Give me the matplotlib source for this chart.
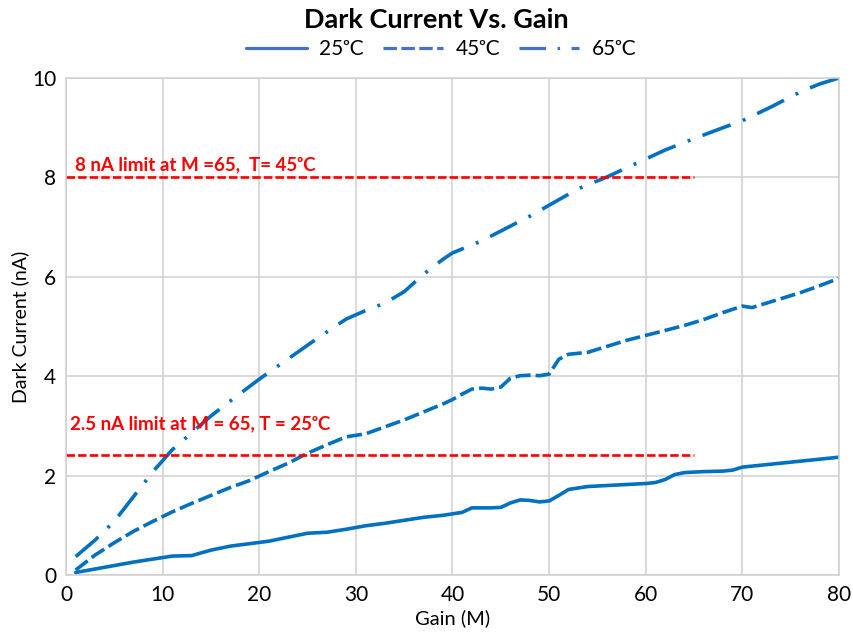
import matplotlib.pyplot as plt

plt.rcParams['font.family'] = ['Lato', 'DejaVu Sans']

# Gain (M) vs dark current (nA)
gain_25 = [1, 3, 5, 7, 9, 11, 13, 15, 17, 19, 21, 23, 25, 27, 29, 31, 33, 35, 37, 39,
           40, 41, 42, 44, 45, 46, 47, 48, 49, 50, 51, 52, 54, 56, 58, 60, 61, 62, 63,
           64, 66, 68, 69, 70, 72, 74, 76, 78, 80]
dark_25 = [0.05, 0.12, 0.19, 0.26, 0.32, 0.38, 0.39, 0.50, 0.58, 0.63, 0.68, 0.76, 0.84,
           0.86, 0.92, 0.99, 1.04, 1.10, 1.16, 1.20, 1.23, 1.26, 1.35, 1.35, 1.36, 1.45,
           1.51, 1.50, 1.47, 1.49, 1.60, 1.72, 1.78, 1.80, 1.82, 1.84, 1.86, 1.92, 2.02,
           2.06, 2.08, 2.09, 2.11, 2.17, 2.21, 2.25, 2.29, 2.33, 2.37]

gain_45 = [1, 3, 5, 7, 9, 11, 13, 15, 17, 19, 21, 23, 25, 27, 29, 31, 33, 35, 37, 39,
           40, 41, 42, 43, 44, 45, 46, 47, 48, 49, 50, 51, 52, 54, 56, 58, 60, 62, 64,
           66, 68, 70, 71, 72, 74, 76, 78, 80]
dark_45 = [0.10, 0.40, 0.65, 0.88, 1.08, 1.27, 1.44, 1.60, 1.76, 1.90, 2.08, 2.25, 2.45,
           2.62, 2.78, 2.84, 2.98, 3.12, 3.28, 3.44, 3.53, 3.64, 3.74, 3.76, 3.74, 3.78,
           3.96, 4.01, 4.02, 4.01, 4.04, 4.34, 4.44, 4.48, 4.60, 4.72, 4.82, 4.92, 5.02,
           5.14, 5.28, 5.41, 5.38, 5.44, 5.56, 5.68, 5.82, 5.97]

gain_65 = [1, 3, 5, 7, 9, 11, 13, 15, 17, 20, 23, 26, 29, 31, 33, 35, 37, 39, 40, 43,
           45, 48, 50, 53, 56, 59, 62, 65, 68, 70, 73, 76, 78, 80]
dark_65 = [0.37, 0.70, 1.08, 1.58, 2.08, 2.52, 2.86, 3.20, 3.50, 3.94, 4.35, 4.76, 5.15,
           5.32, 5.47, 5.70, 6.05, 6.35, 6.48, 6.72, 6.92, 7.22, 7.44, 7.77, 8.01, 8.28,
           8.55, 8.78, 9.00, 9.14, 9.42, 9.72, 9.88, 10.00]

series_labels = ['25\u1d52C', '45\u1d52C', '65\u1d52C']
limit_values = [8.0, 2.42]
limit_end = 65
limit_labels = ['8 nA limit at M =65,  T= 45\u1d52C',
                '2.5 nA limit at M = 65, T = 25\u1d52C']

blue = '#0070C0'

fig = plt.figure(figsize=(8.54, 6.34), dpi=100)
ax = fig.add_axes([0.0773, 0.0931, 0.9051, 0.7839])

ax.plot(gain_25, dark_25, color=blue, lw=2.6, solid_capstyle='round',
        label=series_labels[0])
ax.plot(gain_45, dark_45, color=blue, lw=2.6, linestyle=(0, (4.2, 1.4)),
        dash_capstyle='butt', label=series_labels[1])
ax.plot(gain_65, dark_65, color=blue, lw=2.6, linestyle=(0, (8.3, 3.6, 0.8, 3.6)),
        dash_capstyle='butt', label=series_labels[2])

for val in limit_values:
    ax.hlines(val, 0, limit_end, colors='#FF0000', lw=1.9, linestyles=(0, (3.2, 1.2)))

ax.text(0.9, 8.08, limit_labels[0], color='#FF0000', fontsize=13.5,
        fontweight='bold', va='bottom')
ax.text(0.4, 3.04, limit_labels[1], color='#FF0000', fontsize=13.5,
        fontweight='bold', va='center')

ax.set_xlim(0, 80)
ax.set_ylim(0, 10)
ax.set_xticks(range(0, 81, 10))
ax.set_yticks(range(0, 11, 2))
ax.tick_params(length=0, labelsize=15, pad=7)
ax.grid(True, color='#D0D0D0', lw=1.1)
ax.set_axisbelow(True)
for s in ax.spines.values():
    s.set_color('#D0D0D0')
    s.set_linewidth(1.1)

ax.set_xlabel('Gain (M)', fontsize=14.5, labelpad=3)
ax.set_ylabel('Dark Current (nA)', fontsize=14, labelpad=2)

fig.text(0.511, 0.968, 'Dark Current Vs. Gain', ha='center', va='center',
         fontsize=19.5, fontweight='bold')
leg = fig.legend(loc='center', bbox_to_anchor=(0.517, 0.922), ncol=3, frameon=False,
                 fontsize=15, handlelength=2.9, columnspacing=0.9, handletextpad=0.6)
for line in leg.get_lines():
    line.set_color('#4472C4')
    line.set_linewidth(2.3)

fig.savefig('out.png', dpi=100)
